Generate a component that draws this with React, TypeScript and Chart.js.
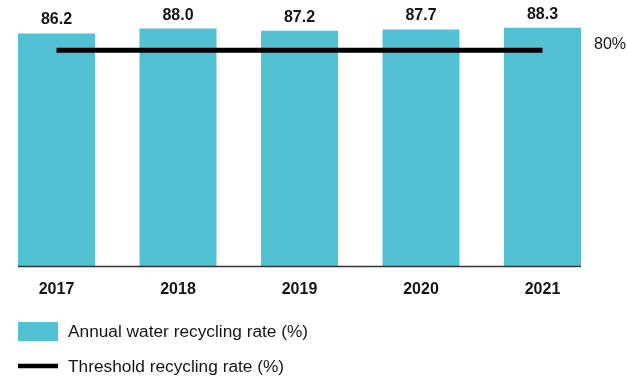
import React, { useEffect, useRef } from "react";
import { Chart, registerables } from "chart.js";

Chart.register(...registerables);

const years = ["2017", "2018", "2019", "2020", "2021"];
const recyclingRate = [86.2, 88.0, 87.2, 87.7, 88.3];
const thresholdRate = [80, 80, 80, 80, 80];
const thresholdLabel = "80%";
const legendLabels = ["Annual water recycling rate (%)", "Threshold recycling rate (%)"];

const BAR_COLOR = "#53C0D4";
const TEXT_COLOR = "#151515";
const FONT = "'Liberation Sans', Arial, Helvetica, sans-serif";
const OFFSET = 40; // canvas shifted left by this many px
const CANVAS_W = 667;
const CANVAS_H = 381;

const overlayPlugin = {
  id: "overlay",
  afterDatasetsDraw(chart: any) {
    const ctx = chart.ctx;
    const barMeta = chart.getDatasetMeta(0);
    const bars = barMeta.data;
    const yScale = chart.scales.y;
    ctx.save();
    // value labels
    ctx.fillStyle = TEXT_COLOR;
    ctx.font = `bold 16px ${FONT}`;
    ctx.textAlign = "center";
    ctx.textBaseline = "alphabetic";
    bars.forEach((b: any, i: number) => {
      ctx.fillText(recyclingRate[i].toFixed(1), b.x, b.y - 9);
    });
    // axis line from first bar's left to last bar's right
    const first = bars[0];
    const last = bars[bars.length - 1];
    const left = first.x - first.width / 2;
    const right = last.x + last.width / 2;
    ctx.strokeStyle = "#333333";
    ctx.lineWidth = 1.5;
    ctx.beginPath();
    ctx.moveTo(left, chart.chartArea.bottom - 0.5);
    ctx.lineTo(right, chart.chartArea.bottom - 0.5);
    ctx.stroke();
    // threshold label
    ctx.font = `16px ${FONT}`;
    ctx.textAlign = "left";
    ctx.fillText(thresholdLabel, right + 13, yScale.getPixelForValue(thresholdRate[0]) - 1.5);
    // legend
    const lx = 18 + OFFSET;
    ctx.fillStyle = BAR_COLOR;
    ctx.fillRect(lx, 322, 40, 19);
    ctx.strokeStyle = "#000000";
    ctx.lineWidth = 4.5;
    ctx.beginPath();
    ctx.moveTo(lx, 366);
    ctx.lineTo(lx + 40, 366);
    ctx.stroke();
    ctx.fillStyle = TEXT_COLOR;
    ctx.font = `17.3px ${FONT}`;
    ctx.fillText(legendLabels[0], lx + 50, 337.3);
    ctx.fillText(legendLabels[1], lx + 50, 372.3);
    ctx.restore();
  },
};

export default function App() {
  const ref = useRef<HTMLCanvasElement>(null);
  useEffect(() => {
    if (!ref.current) return;
    const chart = new Chart(ref.current, {
      type: "bar",
      data: {
        labels: years,
        datasets: [
          {
            type: "bar",
            label: legendLabels[0],
            data: recyclingRate,
            backgroundColor: BAR_COLOR,
            borderWidth: 0,
            categoryPercentage: 1,
            barPercentage: 77 / 121.5,
            order: 2,
          },
          {
            type: "line",
            label: legendLabels[1],
            data: thresholdRate,
            borderColor: "#000000",
            borderWidth: 5,
            pointRadius: 0,
            fill: false,
            order: 1,
          } as any,
        ],
      },
      options: {
        responsive: false,
        animation: false,
        layout: {
          padding: { left: 35.75, right: 23.75, top: 5, bottom: 69.8 },
        },
        plugins: {
          legend: { display: false },
          tooltip: { enabled: false },
        },
        scales: {
          x: {
            offset: true,
            grid: { display: false, drawTicks: false },
            border: { display: false },
            ticks: {
              color: TEXT_COLOR,
              font: { family: FONT, size: 16, weight: "bold" },
              padding: 12.5,
            },
          },
          y: {
            display: false,
            min: 0,
            max: 96.7,
          },
        },
      },
      plugins: [overlayPlugin],
    });
    return () => chart.destroy();
  }, []);
  return (
    <div
      style={{
        position: "fixed",
        left: 0,
        top: 0,
        width: 627,
        height: 381,
        overflow: "hidden",
        background: "#ffffff",
      }}
    >
      <canvas
        ref={ref}
        width={CANVAS_W}
        height={CANVAS_H}
        style={{ position: "absolute", left: -OFFSET, top: 0, width: CANVAS_W, height: CANVAS_H }}
      />
    </div>
  );
}
